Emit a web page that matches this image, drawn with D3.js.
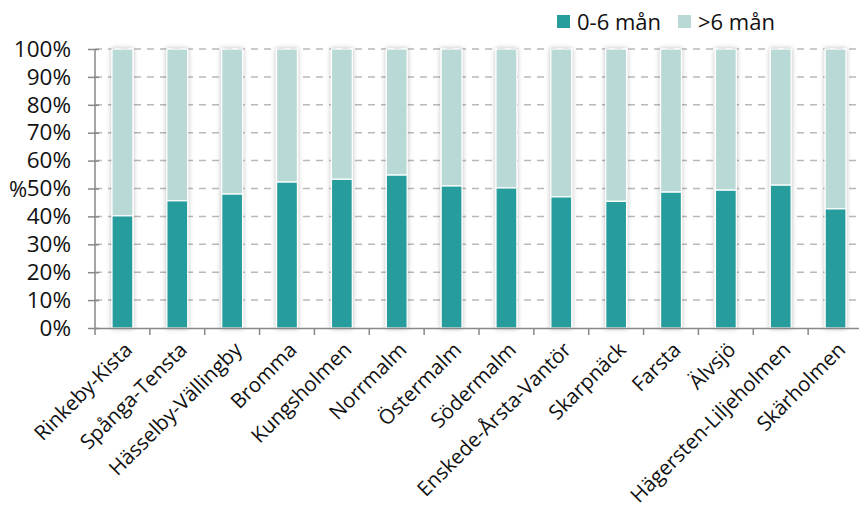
<!DOCTYPE html>
<html>
<head>
<meta charset="utf-8">
<script src="https://cdnjs.cloudflare.com/ajax/libs/d3/7.8.5/d3.min.js"></script>
<style>
  body { margin: 0; background: #fff; }
  text { font-family: "Open Sans", "Noto Sans", sans-serif; fill: #111; }
</style>
</head>
<body>
<svg></svg>
<script>
// districts
var districts = ["Rinkeby-Kista", "Spånga-Tensta", "Hässelby-Vällingby", "Bromma",
  "Kungsholmen", "Norrmalm", "Östermalm", "Södermalm", "Enskede-Årsta-Vantör",
  "Skarpnäck", "Farsta", "Älvsjö", "Hägersten-Liljeholmen", "Skärholmen"];
// share 0-6 months, percent
var shortShare = [40.2, 45.6, 48.0, 52.3, 53.3, 54.8, 50.9, 50.2, 47.0, 45.4, 48.7, 49.4, 51.2, 42.7];
var seriesNames = ["0-6 mån", ">6 mån"];
var yTicks = [0, 10, 20, 30, 40, 50, 60, 70, 80, 90, 100];

var screen = {width: 859, height: 513};
var margins = {left: 95, right: -4, top: 49, bottom: 185};
var graph = {
  width: screen.width - margins.left - margins.right,
  height: screen.height - margins.top - margins.bottom
};
var colors = {dark: "#279d9c", light: "#b8d9d6"};

var svg = d3.select("svg")
  .attr("width", screen.width)
  .attr("height", screen.height);

var defs = svg.append("defs");
var f = defs.append("filter").attr("id", "shadow")
  .attr("x", "-30%").attr("y", "-5%").attr("width", "160%").attr("height", "110%");
f.append("feDropShadow").attr("dx", 0).attr("dy", 0).attr("stdDeviation", 2.4)
  .attr("flood-color", "#000").attr("flood-opacity", 0.28);

var xScale = d3.scaleBand()
  .domain(districts)
  .range([0, graph.width])
  .paddingInner(0.62)
  .paddingOuter(0.31);

var yScale = d3.scaleLinear()
  .domain([0, 100])
  .range([graph.height, 0]);

var target = svg.append("g")
  .attr("transform", "translate(" + margins.left + "," + margins.top + ")");

// dashed gridlines
target.append("g")
  .selectAll("line")
  .data(yTicks.filter(function(t) { return t > 0; }))
  .enter()
  .append("line")
  .attr("x1", 0)
  .attr("x2", graph.width)
  .attr("y1", function(t) { return yScale(t); })
  .attr("y2", function(t) { return yScale(t); })
  .attr("stroke", "#b9b9b9")
  .attr("stroke-width", 1.5)
  .attr("stroke-dasharray", "7,6");

// bars
var rows = districts.map(function(d, i) {
  return {name: d, short: shortShare[i], long: 100 - shortShare[i]};
});

var bars = target.append("g")
  .selectAll("g")
  .data(rows)
  .enter()
  .append("g")
  .attr("filter", "url(#shadow)");

bars.append("rect")
  .attr("x", function(d) { return xScale(d.name); })
  .attr("width", xScale.bandwidth())
  .attr("y", function(d) { return yScale(100); })
  .attr("height", function(d) { return yScale(d.short) - yScale(100); })
  .attr("fill", colors.light)
  .attr("stroke", "#fff")
  .attr("stroke-width", 1.2);

bars.append("rect")
  .attr("x", function(d) { return xScale(d.name); })
  .attr("width", xScale.bandwidth())
  .attr("y", function(d) { return yScale(d.short); })
  .attr("height", function(d) { return yScale(0) - yScale(d.short); })
  .attr("fill", colors.dark)
  .attr("stroke", "#fff")
  .attr("stroke-width", 1.2);

// axes
var yAxis = d3.axisLeft(yScale)
  .tickValues(yTicks)
  .tickSize(7)
  .tickFormat(function(t) { return t + "%"; });

var yg = target.append("g").call(yAxis);
yg.select(".domain").attr("stroke", "#888").attr("stroke-width", 1.5)
  .attr("d", "M0," + yScale(100) + "V" + yScale(0));
yg.selectAll(".tick line").attr("stroke", "#888").attr("stroke-width", 1.5)
  .attr("x1", 4).attr("x2", -7);
yg.selectAll(".tick text")
  .attr("x", -24)
  .style("font-size", "22.5px")
  .style("font-family", "'Open Sans', sans-serif")
  .attr("fill", "#111");

var xAxis = d3.axisBottom(xScale).tickSize(0).tickFormat("");
var xg = target.append("g")
  .attr("transform", "translate(0," + graph.height + ")")
  .call(xAxis);
xg.select(".domain").attr("stroke", "#888").attr("stroke-width", 1.5);

// boundary ticks between categories
target.append("g")
  .selectAll("line")
  .data(districts)
  .enter()
  .append("line")
  .attr("x1", function(d) { return xScale(d) - xScale.step() * 0.31; })
  .attr("x2", function(d) { return xScale(d) - xScale.step() * 0.31; })
  .attr("y1", graph.height)
  .attr("y2", graph.height + 7)
  .attr("stroke", "#888")
  .attr("stroke-width", 1.5);

// rotated category labels
target.append("g")
  .selectAll("text")
  .data(districts)
  .enter()
  .append("text")
  .attr("transform", function(d) {
    return "translate(" + (xScale(d) + xScale.bandwidth() / 2 + 6) + "," + (graph.height + 18) + ") rotate(-45)";
  })
  .attr("text-anchor", "end")
  .attr("dy", "0.35em")
  .style("font-size", "20.5px")
  .text(function(d) { return d; });

// y title
svg.append("text")
  .attr("x", 9)
  .attr("y", 197)
  .style("font-size", "22px")
  .text("%");

// legend
var legend = svg.append("g").attr("transform", "translate(557,15)");
var items = legend.selectAll("g")
  .data(seriesNames)
  .enter()
  .append("g")
  .attr("transform", function(d, i) { return "translate(" + (i * 121) + ",0)"; });
items.append("rect")
  .attr("width", 13).attr("height", 13)
  .attr("fill", function(d, i) { return i === 0 ? colors.dark : colors.light; });
items.append("text")
  .attr("x", 20).attr("y", 7).attr("dy", "0.35em")
  .style("font-size", "22px")
  .text(function(d) { return d; });
</script>
</body>
</html>
